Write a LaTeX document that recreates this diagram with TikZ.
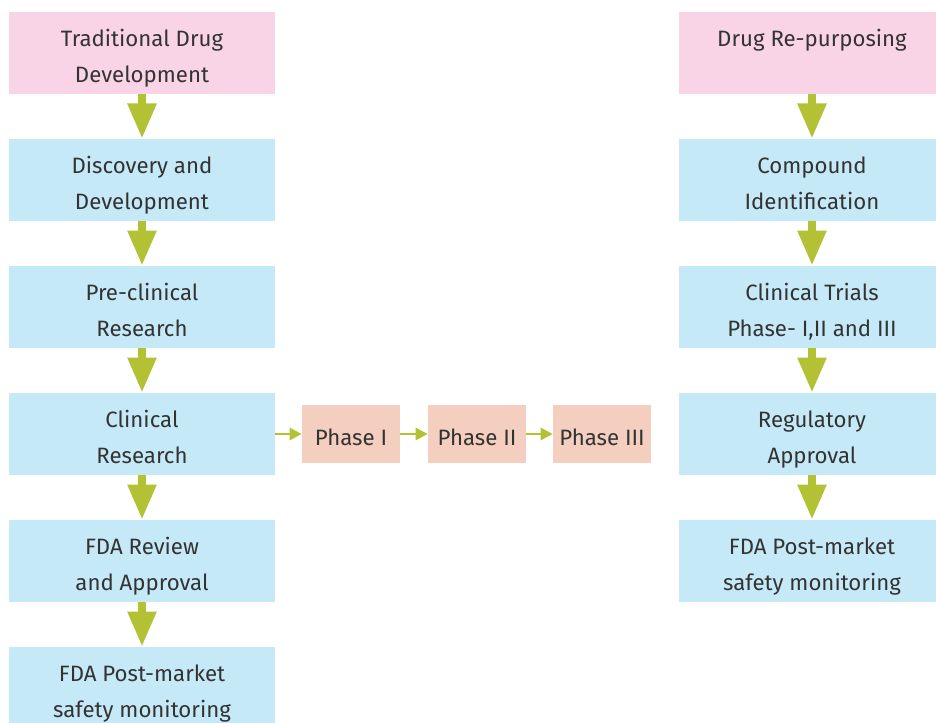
\documentclass[tikz,border=0pt]{standalone}
\usepackage{fontspec}
\setmainfont{Fira Sans}
\usetikzlibrary{arrows.meta}
\definecolor{pinkbox}{HTML}{F9D3E6}
\definecolor{bluebox}{HTML}{C6E9F8}
\definecolor{phasebox}{HTML}{F4CEBE}
\definecolor{arrowgreen}{HTML}{B3C234}
\definecolor{textgray}{HTML}{333333}

\begin{document}
\begin{tikzpicture}[x=0.025cm,y=-0.025cm,
  box/.style={fill=bluebox, minimum width=6.65cm, minimum height=2.05cm,
    align=center, text=textgray, inner sep=0pt,
    text height=47pt, text depth=5pt,
    font=\fontsize{15.8}{25.5}\selectfont},
  startbox/.style={box, fill=pinkbox},
  phasebox/.style={box, fill=phasebox, minimum width=2.45cm, minimum height=1.45cm,
    text height=21.4pt},
  bigarrow/.style={draw=arrowgreen, line width=0.2cm,
    -{Triangle[width=0.68cm,length=0.88cm]}},
  smallarrow/.style={draw=arrowgreen, line width=0.07cm,
    -{Triangle[width=0.3cm,length=0.3cm]}}]
\useasboundingbox (0,0) rectangle (936,723);
\clip (0,0) rectangle (936,723);

% traditional route
\node[startbox] (trad) at (142,53) {Traditional Drug\\Development};
\node[box] (disc) at (142,180) {Discovery and\\Development};
\node[box] (precl) at (142,307) {Pre-clinical\\Research};
\node[box] (clin) at (142,434) {Clinical\\Research};
\node[box] (fda) at (142,561) {FDA Review\\and Approval};
\node[box] (post) at (142,688) {FDA Post-market\\safety monitoring};

% phases
\node[phasebox] (ph1) at (351,434) {Phase I};
\node[phasebox] (ph2) at (477,434) {Phase II};
\node[phasebox] (ph3) at (602,434) {Phase III};

% re-purposing route
\node[startbox] (repur) at (812,53) {Drug Re-purposing\\\phantom{Dp}};
\node[box] (comp) at (812,180) {Compound\\Identification};
\node[box] (trials) at (812,307) {Clinical Trials\\Phase- I,II and III};
\node[box] (reg) at (812,434) {Regulatory\\Approval};
\node[box] (rpost) at (812,561) {FDA Post-market\\safety monitoring};

\foreach \a/\b in {trad/disc,disc/precl,precl/clin,clin/fda,fda/post,
  repur/comp,comp/trials,trials/reg,reg/rpost}
{\draw[bigarrow] (\a.south) -- (\b.north);}
\foreach \a/\b in {clin/ph1,ph1/ph2,ph2/ph3}
{\draw[smallarrow] (\a.east) -- (\b.west);}
\end{tikzpicture}
\end{document}
